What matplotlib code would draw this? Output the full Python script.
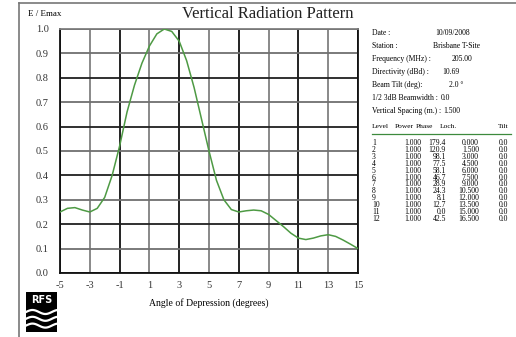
import numpy as np
import matplotlib
matplotlib.use("Agg")
import matplotlib.pyplot as plt
from matplotlib.lines import Line2D
from matplotlib.patches import Rectangle

W, H = 516, 337

# pattern (0.5 degree steps)
angle = [-5, -4.5, -4, -3.5, -3, -2.5, -2, -1.5, -1, -0.5, 0, 0.5, 1, 1.5, 2,
         2.5, 3, 3.5, 4, 4.5, 5, 5.5, 6, 6.5, 7, 7.5, 8, 8.5, 9, 9.5, 10,
         10.5, 11, 11.5, 12, 12.5, 13, 13.5, 14, 14.5, 15]
e_rel = [0.25, 0.265, 0.268, 0.258, 0.25, 0.265, 0.31, 0.40, 0.52, 0.66, 0.77,
         0.86, 0.93, 0.98, 1.0, 0.99, 0.95, 0.87, 0.76, 0.63, 0.50, 0.38, 0.30,
         0.26, 0.25, 0.255, 0.258, 0.255, 0.24, 0.215, 0.19, 0.163, 0.143,
         0.137, 0.143, 0.152, 0.157, 0.15, 0.135, 0.118, 0.10]

info_labels = ["Date :", "Station :", "Frequency (MHz) :", "Directivity (dBd) :",
               "Beam Tilt (deg):", "1/2 3dB Beamwidth :", "Vertical Spacing (m.) :"]
info_values = ["10/09/2008", "Brisbane T-Site", "205.00", "10.69", "2.0 °", "0.0", "1.500"]
info_value_x = [435, 433, 452, 442, 449, 441, 443]

table_head = ["Level", "Power", "Phase", "Loch.", "Tilt"]
levels = [str(i) for i in range(1, 13)]
power = ["1.000"] * 12
phase = ["179.4", "120.9", "98.1", "77.5", "58.1", "46.7", "28.9", "24.3",
         "8.1", "12.7", "0.0", "42.5"]
loch = ["0.000", "1.500", "3.000", "4.500", "6.000", "7.500", "9.000",
        "10.500", "12.000", "13.500", "15.000", "16.500"]
tilt = ["0.0"] * 12


def fx(x):
    return x / W


def fy(y):
    return 1 - y / H


SERIF = ["Liberation Serif", "DejaVu Serif"]
plt.rcParams["axes.unicode_minus"] = False

fig = plt.figure(figsize=(W / 100, H / 100), dpi=100)
fig.patch.set_facecolor("white")

# outer frame (only top and left visible in the reference)
fig.add_artist(Line2D([fx(19), 1], [fy(3), fy(3)], color="#777777", lw=1.2))
fig.add_artist(Line2D([fx(19), fx(19)], [fy(3), 0], color="#777777", lw=1.2))

ax = fig.add_axes([fx(60), fy(273), (358 - 60) / W, (273 - 29) / H])
ax.plot(angle, e_rel, color="#4e9a44", lw=1.1, zorder=3)
ax.set_xlim(-5, 15)
ax.set_ylim(0, 1)
ax.set_xticks(range(-5, 16, 2))
ax.set_yticks(np.round(np.arange(0, 1.01, 0.1), 1))
ax.set_yticklabels([f"{v:.1f}" for v in np.arange(0, 1.01, 0.1)])
ax.tick_params(length=0, labelsize=7.5, colors="#333333")
ax.tick_params(axis="y", pad=8)
ax.tick_params(axis="x", pad=6)
for lab in ax.get_xticklabels() + ax.get_yticklabels():
    lab.set_family(SERIF)
ax.grid(True, color="#3c3c3c", lw=1.3)
for i, gl in enumerate(ax.get_xgridlines()):
    gl.set_color("#808080" if i % 2 else "#111111")
for i, gl in enumerate(ax.get_ygridlines()):
    gl.set_color("#707070" if i % 2 else "#202020")
for side, sp in ax.spines.items():
    sp.set_linewidth(1.3)
    sp.set_color("#808080" if side == "top" else "#111111")

fig.text(fx(28), fy(14), "E / Emax", fontsize=6.5, family=SERIF, va="center")
fig.text(fx(182), fy(14), "Vertical Radiation Pattern", fontsize=12,
         family=SERIF, va="center", color="#222222")
fig.text(fx(209), fy(303), "Angle of Depression (degrees)", fontsize=7,
         family=SERIF, ha="center", va="center")

# info panel
rows_y = [33, 46, 59, 72, 85, 98, 111]
for lbl, val, vx, y in zip(info_labels, info_values, info_value_x, rows_y):
    fig.text(fx(372), fy(y), lbl, fontsize=5.5, family=SERIF, va="center")
    fig.text(fx(vx), fy(y), val, fontsize=5.5, family=SERIF, va="center")

head_x = [372, 395, 416, 440, 498]
for h, x in zip(table_head, head_x):
    fig.text(fx(x), fy(126), h, fontsize=5.4, family=SERIF, va="center")
fig.add_artist(Line2D([fx(372), fx(511)], [fy(133.5), fy(133.5)],
                      color="#3d8a3d", lw=0.9))

col_x = [372, 421, 446, 479, 508]
col_ha = ["left", "right", "right", "right", "right"]
for r in range(12):
    y = 143 + r * 6.9
    for col, x, ha in zip([levels, power, phase, loch, tilt], col_x, col_ha):
        fig.text(fx(x), fy(y), col[r], fontsize=5.5, family=SERIF,
                 va="center", ha=ha)

# RFS logo
lax = fig.add_axes([fx(26), fy(332), (57 - 26) / W, (332 - 292) / H])
lax.set_xlim(0, 1)
lax.set_ylim(0, 1)
lax.axis("off")
lax.add_patch(Rectangle((0, 0), 1, 1, color="black"))
lax.text(0.5, 0.8, "RFS", color="white", fontsize=7, fontweight="bold",
         ha="center", va="center", family="DejaVu Sans")
t = np.linspace(0, 1, 60)
for base in (0.5, 0.33, 0.16):
    lax.plot(t, base + 0.05 * np.sin(2 * np.pi * t * 1.2), color="white", lw=1.6)

fig.savefig("out.png", dpi=100, facecolor="white")
